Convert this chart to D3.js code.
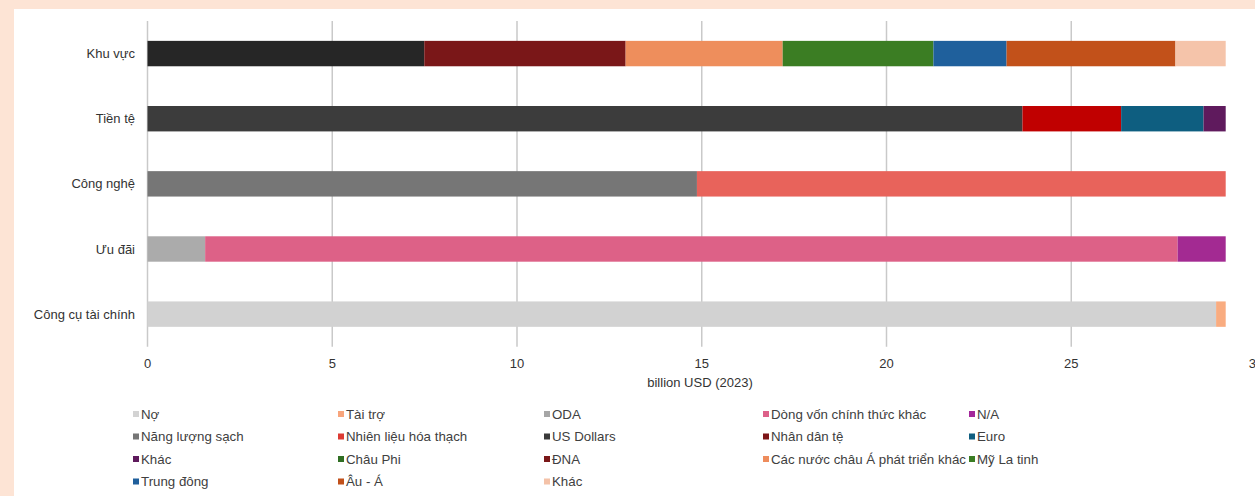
<!DOCTYPE html>
<html>
<head>
<meta charset="utf-8">
<script src="https://cdn.jsdelivr.net/npm/d3@7"></script>
<style>
body { margin: 0; background: #fde4d5; overflow: hidden; }
#panel { position: absolute; left: 14px; top: 9px; width: 1241px; height: 487px; background: #fff; }
svg { position: absolute; left: 0; top: 0; }
text { font-family: "Liberation Sans", Arial, sans-serif; }
</style>
</head>
<body>
<div id="panel"></div>
<svg id="chart" width="1255" height="496"></svg>
<script>
// categories top to bottom
var categories = ["Khu vực", "Tiền tệ", "Công nghệ", "Ưu đãi", "Công cụ tài chính"]

// stacked segment values (billion USD) per category, left to right
var khuVucValues = [7.49, 5.45, 4.25, 4.08, 1.98, 4.57, 1.36]
var tienTeValues = [23.68, 2.67, 2.23, 0.60]
var congNgheValues = [14.87, 14.31]
var uuDaiValues = [1.56, 26.32, 1.30]
var congCuValues = [28.92, 0.26]

var khuVucColors = ["#262626", "#7a1718", "#ee8e5c", "#3b7d23", "#1f609c", "#c2511a", "#f5c4aa"]
var tienTeColors = ["#3c3c3c", "#c00000", "#0e5e80", "#5f1a5d"]
var congNgheColors = ["#767676", "#e8635b"]
var uuDaiColors = ["#ababab", "#dd6187", "#a32a92"]
var congCuColors = ["#d2d2d2", "#f9ac80"]

var xTicks = [0, 5, 10, 15, 20, 25, 30]

var legendNames = ["Nợ", "Tài trợ", "ODA", "Dòng vốn chính thức khác", "N/A",
    "Năng lượng sạch", "Nhiên liệu hóa thạch", "US Dollars", "Nhân dân tệ", "Euro",
    "Khác", "Châu Phi", "ĐNA", "Các nước châu Á phát triển khác", "Mỹ La tinh",
    "Trung đông", "Âu - Á", "Khác"]
var legendColors = ["#d3d3d3", "#f8a57c", "#a6a6a6", "#dd6189", "#a3279a",
    "#767676", "#dc3b33", "#3a3a3a", "#7d1517", "#0f5e80",
    "#5e1a5c", "#2f6e22", "#7a1718", "#ee8c5c", "#3b7d23",
    "#1f5f9c", "#c1501a", "#f4c2a8"]

var allValues = [khuVucValues, tienTeValues, congNgheValues, uuDaiValues, congCuValues]
var allColors = [khuVucColors, tienTeColors, congNgheColors, uuDaiColors, congCuColors]

// flatten to segments with start/end
var segments = []
categories.forEach(function(cat, i) {
    var acc = 0
    allValues[i].forEach(function(v, j) {
        segments.push({cat: cat, x0: acc, x1: acc + v, color: allColors[i][j]})
        acc += v
    })
})

var svg = d3.select('#chart')

var x = d3.scaleLinear()
    .domain([0, 30])
    .range([147.5, 1256])

var y = d3.scaleBand()
    .domain(categories)
    .range([21, 346.7])
    .paddingInner(0.61)
    .paddingOuter(0.305)

// grid
svg.append('g')
    .selectAll('line')
    .data(xTicks)
    .enter()
    .append('line')
    .attr('x1', function(d){return x(d)})
    .attr('x2', function(d){return x(d)})
    .attr('y1', 21)
    .attr('y2', 346.7)
    .style('stroke', '#c9c9c9')
    .style('stroke-width', 1.5)

// bars
svg.append('g')
    .selectAll('rect')
    .data(segments)
    .enter()
    .append('rect')
    .attr('x', function(d){return x(d.x0)})
    .attr('width', function(d){return x(d.x1) - x(d.x0)})
    .attr('y', function(d){return y(d.cat)})
    .attr('height', y.bandwidth())
    .style('fill', function(d){return d.color})

// category labels
svg.append('g')
    .selectAll('text')
    .data(categories)
    .enter()
    .append('text')
    .attr('x', 135)
    .attr('y', function(d){return y(d) + y.bandwidth() / 2})
    .attr('dy', '0.35em')
    .attr('text-anchor', 'end')
    .style('font-size', '13px')
    .style('fill', '#333')
    .text(function(d){return d})

// tick labels (30 is cut at the right edge, as in the source)
svg.append('g')
    .selectAll('text')
    .data(xTicks)
    .enter()
    .append('text')
    .attr('x', function(d){return x(d)})
    .attr('y', 363)
    .attr('dy', '0.35em')
    .attr('text-anchor', 'middle')
    .style('font-size', '13px')
    .style('fill', '#333')
    .text(function(d){return d})

svg.append('text')
    .attr('x', 700)
    .attr('y', 382)
    .attr('dy', '0.35em')
    .attr('text-anchor', 'middle')
    .style('font-size', '13px')
    .style('fill', '#333')
    .text('billion USD (2023)')

// legend, 5 columns
var legendCols = [133, 338, 544, 763, 969]
var legendRows = [414, 436.5, 459, 481.5]

var leg = svg.append('g')
    .selectAll('g')
    .data(legendNames)
    .enter()
    .append('g')
    .attr('transform', function(d, i){
        return 'translate(' + legendCols[i % 5] + ',' + legendRows[Math.floor(i / 5)] + ')'
    })

leg.append('rect')
    .attr('x', 0)
    .attr('y', -3)
    .attr('width', 6)
    .attr('height', 6)
    .style('fill', function(d, i){return legendColors[i]})

leg.append('text')
    .attr('x', 8)
    .attr('dy', '0.35em')
    .style('font-size', '13.3px')
    .style('fill', '#404040')
    .text(function(d){return d})
</script>
</body>
</html>
